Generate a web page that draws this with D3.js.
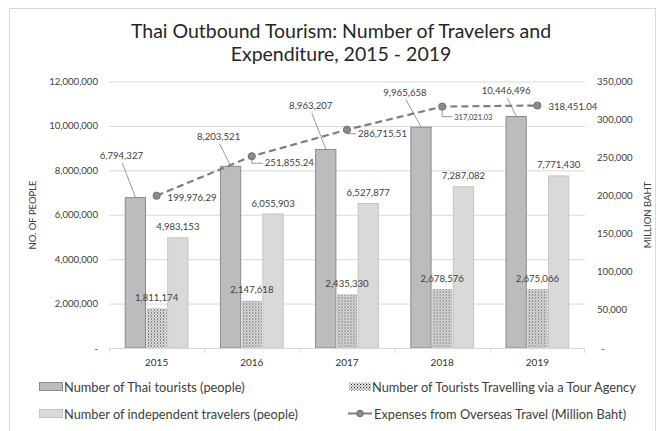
<!DOCTYPE html>
<meta charset="utf-8">
<style>
body { margin: 0; background: #fff; }
text { font-family: Lato, "Open Sans", sans-serif; fill: #404040; }
.grid line { stroke: #d9d9d9; stroke-width: 1px; }
.grid path { display: none; }
.leader { stroke: #808080; stroke-width: 0.8px; fill: none; }
</style>
<svg width="658" height="431"></svg>
<script src="https://d3js.org/d3.v7.min.js"></script>
<script>

var years = ["2015", "2016", "2017", "2018", "2019"];
var thaiTourists = [6794327, 8203521, 8963207, 9965658, 10446496];
var tourAgency = [1811174, 2147618, 2435330, 2678576, 2675066];
var independent = [4983153, 6055903, 6527877, 7287082, 7771430];
var expenses = [199976.29, 251855.24, 286715.51, 317021.03, 318451.04];
var expenseLabels = ["199,976.29", "251,855.24", "286,715.51", "317,021.03", "318,451.04"];
var leftTicks = [0, 2000000, 4000000, 6000000, 8000000, 10000000, 12000000];
var rightTicks = [0, 50000, 100000, 150000, 200000, 250000, 300000, 350000];

// label nudges for the Thai tourists labels (dx, dy from bar top)
var thaiNudge = [[-14, -38], [-12, -26], [-15, -40], [-16, -31], [-10, -22]];

var svg = d3.select("svg"),
    margin = {top: 81.5, right: 73, bottom: 83, left: 109},
    width = 658 - margin.left - margin.right,
    height = 431 - margin.top - margin.bottom,
    g = svg.append("g").attr("transform", "translate(" + margin.left + "," + margin.top + ")");

// chart frame
svg.append("rect")
  .attr("x", 9.5).attr("y", 8.5).attr("width", 646).attr("height", 440)
  .attr("fill", "none").attr("stroke", "#d9d9d9");

// pattern for tour agency bars
var pat = svg.append("defs").append("pattern")
  .attr("id", "dots").attr("patternUnits", "userSpaceOnUse")
  .attr("width", 3).attr("height", 3);
pat.append("rect").attr("width", 3).attr("height", 3).attr("fill", "#fff");
pat.append("rect").attr("x", 0).attr("y", 0).attr("width", 1.2).attr("height", 1.2).attr("fill", "#222");
pat.append("rect").attr("x", 1.5).attr("y", 1.5).attr("width", 1.2).attr("height", 1.2).attr("fill", "#555");

svg.append("text").attr("x", 341).attr("y", 37.5).attr("text-anchor", "middle")
  .style("font-size", "19.5px").style("fill", "#262626")
  .text("Thai Outbound Tourism: Number of Travelers and");
svg.append("text").attr("x", 341).attr("y", 60.5).attr("text-anchor", "middle")
  .style("font-size", "19.5px").style("fill", "#262626")
  .text("Expenditure, 2015 - 2019");

var x0 = d3.scaleBand().domain(years).range([0, width]).padding(0);
var series = ["thai", "agency", "indep"];
var x1 = d3.scaleBand().domain(series).range([0, x0.bandwidth()]).paddingInner(0).paddingOuter(0.74);
var y = d3.scaleLinear().domain([0, 12000000]).range([height, 0]);
var y2 = d3.scaleLinear().domain([0, 350000]).range([height, 0]);

var fmt = d3.format(",");
var numSize = "9.6px";

g.append("g").attr("class", "grid")
  .call(d3.axisLeft(y).tickValues(leftTicks.slice(1)).tickSize(-width).tickFormat(""));

// left axis labels
g.append("g").selectAll("text").data(leftTicks).enter().append("text")
  .attr("x", -11).attr("y", function(d) { return y(d) + 3.5; })
  .attr("text-anchor", "end").style("font-size", numSize)
  .text(function(d) { return d === 0 ? "-" : fmt(d); });

// right axis labels
g.append("g").selectAll("text").data(rightTicks).enter().append("text")
  .attr("x", function(d) { return d === 0 ? width + 16 : width + 12; })
  .attr("y", function(d) { return y2(d) + 3.5; })
  .attr("text-anchor", "start").style("font-size", numSize)
  .text(function(d) { return d === 0 ? "-" : fmt(d); });

svg.append("text").attr("transform", "translate(36,215) rotate(-90)")
  .attr("text-anchor", "middle").style("font-size", "9.5px").text("NO. OF PEOPLE");
svg.append("text").attr("transform", "translate(651,215) rotate(-90)")
  .attr("text-anchor", "middle").style("font-size", "9.5px").text("MILLION BAHT");

var rows = years.map(function(yr, i) {
  return {year: yr, i: i, thai: thaiTourists[i], agency: tourAgency[i], indep: independent[i]};
});

var groups = g.selectAll(".grp").data(rows).enter().append("g")
  .attr("transform", function(d) { return "translate(" + x0(d.year) + ",0)"; });

var fills = {thai: "#bcbcbf", agency: "url(#dots)", indep: "#d9d9d9"};
var strokes = {thai: "#8a8a8a", agency: "none", indep: "#c4c4c4"};

groups.selectAll("rect").data(function(d) {
  return series.map(function(s) { return {key: s, value: d[s]}; });
}).enter().append("rect")
  .attr("x", function(d) { return x1(d.key) + 0.5; })
  .attr("y", function(d) { return y(d.value) + 0.5; })
  .attr("width", x1.bandwidth() - 1)
  .attr("height", function(d) { return height - y(d.value) - 0.5; })
  .attr("fill", function(d) { return fills[d.key]; })
  .attr("stroke", function(d) { return strokes[d.key]; });

// labels for agency and independent bars
groups.append("text")
  .attr("x", x1("agency") + x1.bandwidth() / 2)
  .attr("y", function(d) { return y(d.agency) - 7; })
  .attr("text-anchor", "middle").style("font-size", numSize)
  .text(function(d) { return fmt(d.agency); });
groups.append("text")
  .attr("x", x1("indep") + x1.bandwidth() / 2)
  .attr("y", function(d) { return y(d.indep) - 7; })
  .attr("text-anchor", "middle").style("font-size", numSize)
  .text(function(d) { return fmt(d.indep); });

// thai tourists labels with leader lines
groups.append("line").attr("class", "leader")
  .attr("x1", function(d) { return x1("thai") + x1.bandwidth() / 2 + thaiNudge[d.i][0] + 1; })
  .attr("y1", function(d) { return y(d.thai) + thaiNudge[d.i][1] + 4; })
  .attr("x2", x1("thai") + x1.bandwidth() / 2)
  .attr("y2", function(d) { return y(d.thai); });
groups.append("text")
  .attr("x", function(d) { return x1("thai") + x1.bandwidth() / 2 + thaiNudge[d.i][0]; })
  .attr("y", function(d) { return y(d.thai) + thaiNudge[d.i][1]; })
  .attr("text-anchor", "middle").style("font-size", numSize)
  .text(function(d) { return fmt(d.thai); });

// x axis
g.append("line").attr("x1", 0).attr("x2", width).attr("y1", height + 0.5).attr("y2", height + 0.5)
  .attr("stroke", "#d9d9d9");
g.append("g").selectAll("line").data(years.concat(["end"])).enter().append("line")
  .attr("x1", function(d, i) { return i < years.length ? x0(d) + 0.5 : width - 0.5; })
  .attr("x2", function(d, i) { return i < years.length ? x0(d) + 0.5 : width - 0.5; })
  .attr("y1", height).attr("y2", height + 5).attr("stroke", "#d9d9d9");
g.append("g").selectAll("text").data(years).enter().append("text")
  .attr("x", function(d) { return x0(d) + x0.bandwidth() / 2; })
  .attr("y", height + 18).attr("text-anchor", "middle").style("font-size", "10px")
  .style("fill", "#333").text(function(d) { return d; });

// expenses line
var ex = function(i) { return x0(years[i]) + x0.bandwidth() / 2; };
var line = d3.line()
  .x(function(d, i) { return ex(i); })
  .y(function(d) { return y2(d); });

g.append("path").datum(expenses).attr("d", line)
  .attr("fill", "none").attr("stroke", "#7f7f7f").attr("stroke-width", 2.2)
  .attr("stroke-dasharray", "7,4");

// expense labels: dx, dy, hooked leader
var expOff = [[11, 5, false], [13, 10, true], [11, 7, true], [12, 13, true], [11, 4, false]];
g.selectAll(".eld").data(expenses).enter().append("path").attr("class", "leader")
  .attr("d", function(d, i) {
    if (!expOff[i][2]) return null;
    var cx = ex(i), cy = y2(d);
    var ly = cy + expOff[i][1] - 3;
    return "M" + cx + "," + (cy + 3) + "L" + cx + "," + ly + "L" + (cx + expOff[i][0] - 2) + "," + ly;
  });

g.selectAll(".pt").data(expenses).enter().append("circle")
  .attr("cx", function(d, i) { return ex(i); })
  .attr("cy", function(d) { return y2(d); })
  .attr("r", 3.6).attr("fill", "#8a8a8a").attr("stroke", "#6f6f6f").attr("stroke-width", 1);

g.selectAll(".elbl").data(expenses).enter().append("text")
  .attr("x", function(d, i) { return ex(i) + expOff[i][0]; })
  .attr("y", function(d, i) { return y2(d) + expOff[i][1]; })
  .style("font-size", function(d, i) { return i === 3 ? "7.5px" : numSize; })
  .text(function(d, i) { return expenseLabels[i]; });

// legend
var lg = svg.append("g");
var lgSize = "12.8px";
lg.append("rect").attr("x", 39.5).attr("y", 382.5).attr("width", 23).attr("height", 8)
  .attr("fill", fills.thai).attr("stroke", strokes.thai);
lg.append("text").attr("x", 64).attr("y", 391.5).style("font-size", lgSize)
  .text("Number of Thai tourists (people)");
lg.append("rect").attr("x", 39.5).attr("y", 409.5).attr("width", 23).attr("height", 8)
  .attr("fill", fills.indep).attr("stroke", strokes.indep);
lg.append("text").attr("x", 64).attr("y", 418.5).style("font-size", lgSize)
  .text("Number of independent travelers (people)");
lg.append("rect").attr("x", 349).attr("y", 382.5).attr("width", 22).attr("height", 8)
  .attr("fill", "url(#dots)");
lg.append("text").attr("x", 372).attr("y", 391.5).style("font-size", lgSize)
  .text("Number of Tourists Travelling via a Tour Agency");
lg.append("line").attr("x1", 348).attr("x2", 372).attr("y1", 413.5).attr("y2", 413.5)
  .attr("stroke", "#7f7f7f").attr("stroke-width", 2);
lg.append("circle").attr("cx", 360).attr("cy", 413.5).attr("r", 3.3)
  .attr("fill", "#8a8a8a").attr("stroke", "#6f6f6f");
lg.append("text").attr("x", 374).attr("y", 418.5).style("font-size", lgSize)
  .text("Expenses from Overseas Travel (Million Baht)");

</script>
